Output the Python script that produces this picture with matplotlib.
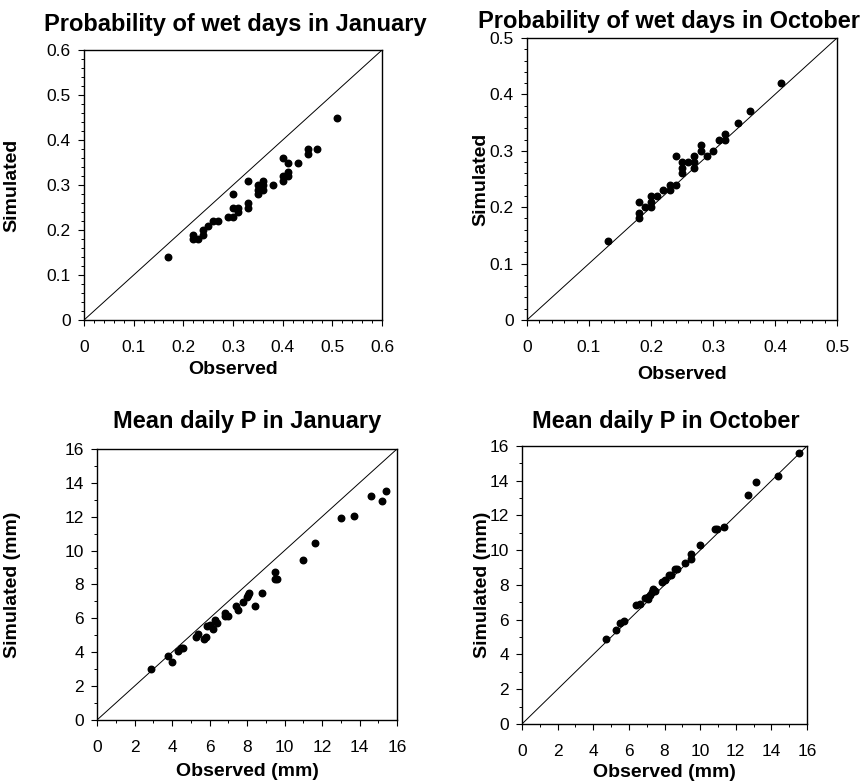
import numpy as np
import matplotlib
matplotlib.use("Agg")
import matplotlib.pyplot as plt
from matplotlib.ticker import MultipleLocator, FormatStrFormatter

plt.rcParams['font.family'] = ['Liberation Sans', 'DejaVu Sans']

# Probability of wet days - January
jan_wet_obs = [0.17, 0.22, 0.22, 0.23, 0.24, 0.24, 0.25, 0.26, 0.27, 0.29,
               0.30, 0.30, 0.30, 0.31, 0.31, 0.33, 0.33, 0.33, 0.35, 0.35,
               0.35, 0.36, 0.36, 0.36, 0.38, 0.40, 0.40, 0.40, 0.41, 0.41,
               0.41, 0.43, 0.45, 0.45, 0.47, 0.51]
jan_wet_sim = [0.14, 0.19, 0.18, 0.18, 0.20, 0.19, 0.21, 0.22, 0.22, 0.23,
               0.23, 0.25, 0.28, 0.25, 0.24, 0.26, 0.25, 0.31, 0.28, 0.29,
               0.30, 0.29, 0.30, 0.31, 0.30, 0.36, 0.32, 0.31, 0.35, 0.33,
               0.32, 0.35, 0.38, 0.37, 0.38, 0.45]

# Probability of wet days - October
oct_wet_obs = [0.13, 0.18, 0.18, 0.18, 0.19, 0.20, 0.20, 0.20, 0.21, 0.22,
               0.23, 0.23, 0.24, 0.24, 0.25, 0.25, 0.25, 0.26, 0.27, 0.27,
               0.27, 0.28, 0.28, 0.29, 0.30, 0.31, 0.32, 0.32, 0.34, 0.36,
               0.41]
oct_wet_sim = [0.14, 0.21, 0.19, 0.18, 0.20, 0.22, 0.21, 0.20, 0.22, 0.23,
               0.24, 0.23, 0.29, 0.24, 0.28, 0.27, 0.26, 0.28, 0.29, 0.28,
               0.27, 0.31, 0.30, 0.29, 0.30, 0.32, 0.33, 0.32, 0.35, 0.37,
               0.42]

# Mean daily P - January (mm)
jan_p_obs = [2.9, 3.8, 4.0, 4.3, 4.5, 4.6, 5.3, 5.4, 5.7, 5.8,
             5.85, 6.05, 6.2, 6.3, 6.4, 6.8, 6.8, 7.0, 7.4, 7.5,
             7.8, 8.0, 8.05, 8.1, 8.4, 8.8, 9.5, 9.6, 9.5, 11.0,
             11.6, 13.0, 13.7, 14.6, 15.2, 15.4]
jan_p_sim = [3.0, 3.8, 3.45, 4.1, 4.25, 4.25, 4.9, 5.1, 4.8, 4.9,
             5.55, 5.6, 5.35, 5.9, 5.7, 6.15, 6.3, 6.15, 6.7, 6.5,
             6.95, 7.25, 7.4, 7.5, 6.75, 7.5, 8.75, 8.35, 8.3, 9.45,
             10.45, 11.95, 12.05, 13.25, 12.9, 13.5]

# Mean daily P - October (mm)
oct_p_obs = [4.7, 5.3, 5.5, 5.75, 6.4, 6.65, 6.9, 7.05, 7.1, 7.2,
             7.3, 7.35, 7.45, 7.85, 8.0, 8.25, 8.35, 8.6, 8.7, 9.15,
             9.5, 9.5, 10.0, 10.85, 10.95, 11.35, 12.7, 13.15, 14.35, 15.55]
oct_p_sim = [4.9, 5.4, 5.8, 5.95, 6.85, 6.9, 7.25, 7.2, 7.3, 7.4,
             7.6, 7.75, 7.65, 8.15, 8.3, 8.6, 8.55, 8.9, 8.9, 9.25,
             9.8, 9.5, 10.3, 11.2, 11.2, 11.35, 13.2, 13.9, 14.3, 15.6]

fig = plt.figure(figsize=(8.67, 7.83), dpi=100)

panels = [
    # rect, obs, sim, lim, major, minor, ylabel, xlabel, ylab_x, xlab_y
    ([0.0969, 0.5913, 0.3437, 0.3448], jan_wet_obs, jan_wet_sim, 0.6, 0.1, 0.02,
     'Simulated', 'Observed', -0.215, -0.15),
    ([0.6078, 0.5913, 0.3576, 0.3602], oct_wet_obs, oct_wet_sim, 0.5, 0.1, 0.02,
     'Simulated', 'Observed', -0.12, -0.163),
    ([0.1119, 0.0805, 0.3460, 0.3461], jan_p_obs, jan_p_sim, 16, 2, 1,
     'Simulated (mm)', 'Observed (mm)', -0.255, -0.157),
    ([0.6021, 0.0754, 0.3287, 0.3550], oct_p_obs, oct_p_sim, 16, 2, 1,
     'Simulated (mm)', 'Observed (mm)', -0.11, -0.145),
]

for rect, obs, sim, lim, major, minor, ylab, xlab, ylx, xly in panels:
    ax = fig.add_axes(rect)
    ax.plot([0, lim], [0, lim], color='black', linewidth=0.7)
    ax.scatter(obs, sim, s=22, color='black', zorder=3, clip_on=False)
    ax.set_xlim(0, lim)
    ax.set_ylim(0, lim)
    for axis in (ax.xaxis, ax.yaxis):
        axis.set_major_locator(MultipleLocator(major))
        axis.set_minor_locator(MultipleLocator(minor))
        axis.set_major_formatter(FormatStrFormatter('%g'))
    ax.tick_params(which='major', direction='out', length=4.5, width=0.8, labelsize=12.5)
    ax.tick_params(which='minor', direction='out', length=2.5, width=0.7)
    ax.tick_params(axis='x', which='major', pad=10)
    ax.tick_params(axis='y', which='major', pad=5)
    for sp in ax.spines.values():
        sp.set_linewidth(1.0)
    ax.set_ylabel(ylab, fontsize=14, fontweight='bold')
    ax.set_xlabel(xlab, fontsize=14, fontweight='bold')
    ax.yaxis.set_label_coords(ylx, 0.5)
    ax.xaxis.set_label_coords(0.5, xly)

fig.text(0.271, 0.969, 'Probability of wet days in January', ha='center', va='center',
         fontsize=17, fontweight='bold')
fig.text(0.772, 0.972, 'Probability of wet days in October', ha='center', va='center',
         fontsize=17, fontweight='bold')
fig.text(0.285, 0.4623, 'Mean daily P in January', ha='center', va='center',
         fontsize=17, fontweight='bold')
fig.text(0.768, 0.4623, 'Mean daily P in October', ha='center', va='center',
         fontsize=17, fontweight='bold')

fig.savefig('out.png', dpi=100)
